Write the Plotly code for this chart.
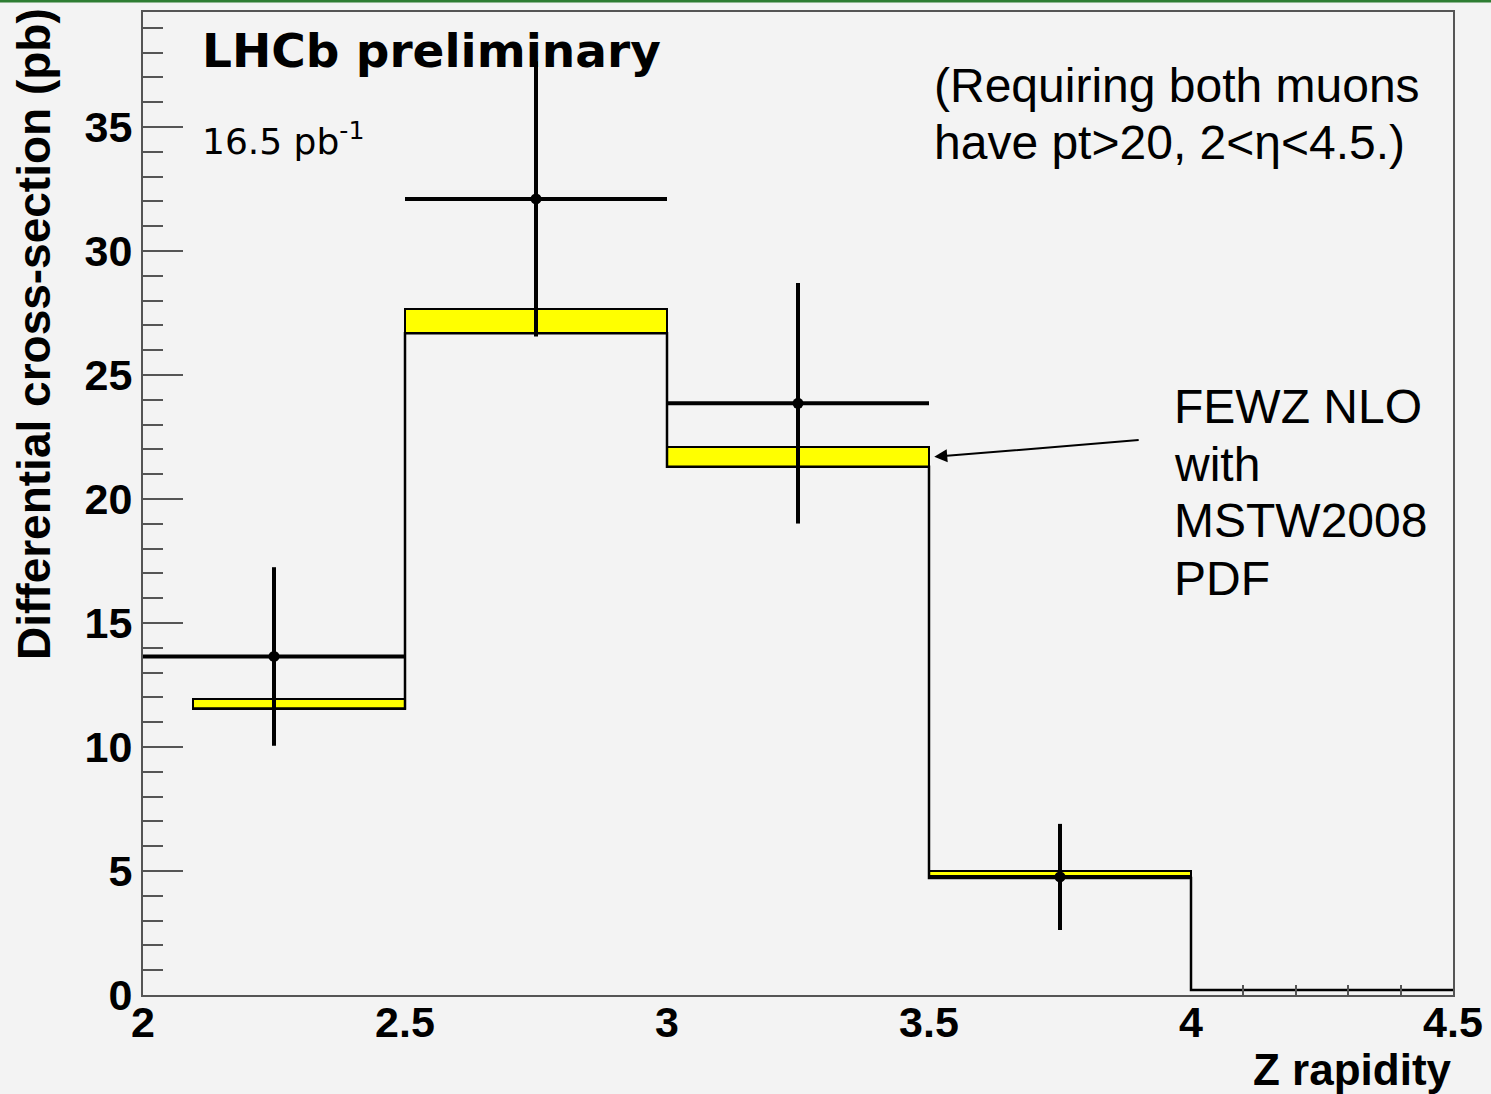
import plotly.graph_objects as go

# ---------------- data ----------------
bin_lo = [2.0, 2.5, 3.0, 3.5]
bin_hi = [2.5, 3.0, 3.5, 4.0]
data_x = [2.25, 2.75, 3.25, 3.75]
data_y = [13.65, 32.1, 23.86, 4.76]
data_err = [3.6, 5.55, 4.85, 2.14]
data_xerr = [0.25, 0.25, 0.25, 0.25]

# theory (FEWZ NLO with MSTW2008) band per bin
theory_x_lo = [2.095, 2.5, 3.0, 3.5]
theory_x_hi = [2.5, 3.0, 3.5, 4.0]
theory_lo = [11.55, 26.68, 21.3, 4.72]
theory_hi = [11.95, 27.65, 22.08, 5.0]
theory_last_edge = 4.5
theory_last_val = 0.2

x_ticks = [2, 2.5, 3, 3.5, 4, 4.5]
x_ticklabels = ["2", "2.5", "3", "3.5", "4", "4.5"]
y_ticks = [0, 5, 10, 15, 20, 25, 30, 35]

# ---------------- layout geometry ----------------
W, H = 1491, 1094
L, R, T, B = 143, 1453, 12, 995
YMAX = (B - T) / 24.8

def px(xp):
    return (xp - L) / (R - L)

def py(yp):
    return (B - yp) / (B - T)

BG = "#f3f3f3"
FRAME = "#555555"

fig = go.Figure()

# theory yellow band boxes
fig.add_trace(go.Bar(
    x=[(a + b) / 2 for a, b in zip(theory_x_lo, theory_x_hi)],
    width=[b - a for a, b in zip(theory_x_lo, theory_x_hi)],
    base=theory_lo,
    y=[h - l for h, l in zip(theory_hi, theory_lo)],
    marker=dict(color="#ffff00", line=dict(color="black", width=2)),
    showlegend=False, hoverinfo="skip",
))

# theory step outline
fig.add_trace(go.Scatter(
    x=theory_x_lo + [theory_x_hi[-1], theory_last_edge],
    y=theory_lo + [theory_last_val, theory_last_val],
    mode="lines", line=dict(color="black", width=2.5, shape="hv"),
    showlegend=False, hoverinfo="skip",
))

# data points
fig.add_trace(go.Scatter(
    x=data_x, y=data_y, mode="markers",
    marker=dict(color="black", size=11),
    error_y=dict(type="data", array=data_err, color="black", thickness=4, width=0),
    error_x=dict(type="data", array=data_xerr, color="black", thickness=4, width=0),
    showlegend=False,
))

ann = []
# titles / labels
ann.append(dict(text="LHCb preliminary", xref="paper", yref="paper",
                x=px(200), y=py(51), xanchor="left", yanchor="middle", showarrow=False,
                font=dict(family="DejaVu Sans", size=47, color="black", weight="bold")))
ann.append(dict(text="16.5 pb<sup>-1</sup>", xref="paper", yref="paper",
                x=px(200), y=py(139), xanchor="left", yanchor="middle", showarrow=False,
                font=dict(family="DejaVu Sans", size=36, color="black")))
for txt, yc in [("(Requiring both muons", 86), ("have pt>20, 2<η<4.5.)", 143)]:
    ann.append(dict(text=txt, xref="paper", yref="paper", x=px(932), y=py(yc),
                    xanchor="left", yanchor="middle", showarrow=False,
                    font=dict(family="Liberation Sans", size=48, color="black")))
for txt, yc in [("FEWZ NLO", 406), ("with", 464), ("MSTW2008", 520), ("PDF", 578)]:
    ann.append(dict(text=txt, xref="paper", yref="paper", x=px(1172), y=py(yc),
                    xanchor="left", yanchor="middle", showarrow=False,
                    font=dict(family="Liberation Sans", size=48, color="black")))
# arrow
ann.append(dict(text="", x=3.51, y=21.7, xref="x", yref="y",
                ax=3.903, ay=22.38, axref="x", ayref="y",
                showarrow=True, arrowhead=2, arrowsize=1.3, arrowwidth=2, arrowcolor="black"))
# axis titles
ann.append(dict(text="Differential cross-section (pb)", xref="paper", yref="paper",
                x=px(34), y=py(6), xanchor="center", yanchor="top", textangle=-90,
                showarrow=False,
                font=dict(family="Liberation Sans", size=46, color="black", weight="bold")))
ann.append(dict(text="Z rapidity", xref="paper", yref="paper",
                x=px(1454), y=py(1069), xanchor="right", yanchor="middle", showarrow=False,
                font=dict(family="Liberation Sans", size=44, color="black", weight="bold")))

tickfont = dict(family="Liberation Sans", size=43, color="black", weight="bold")

fig.update_layout(
    width=W, height=H, autosize=False,
    margin=dict(l=L, r=W - R, t=T, b=H - B, autoexpand=False),
    paper_bgcolor=BG, plot_bgcolor=BG,
    bargap=0,
    annotations=ann,
    xaxis=dict(range=[2, 4.5], tickvals=x_ticks, ticktext=x_ticklabels, ticks="",
               showline=True, linecolor=FRAME, linewidth=2, mirror=True,
               showgrid=False, zeroline=False, tickfont=tickfont,
               ticklabelstandoff=-12,
               minor=dict(tickmode="array", tickvals=[4.1, 4.2, 4.3, 4.4], ticks="inside",
                          ticklen=10, tickwidth=2, tickcolor=FRAME, showgrid=False)),
    yaxis=dict(range=[0, YMAX], tickvals=y_ticks, ticks="inside", ticklen=40, tickwidth=2,
               tickcolor=FRAME, showline=True, linecolor=FRAME, linewidth=2, mirror=True,
               showgrid=False, zeroline=False, tickfont=tickfont,
               minor=dict(dtick=1, ticks="inside", ticklen=20, tickwidth=2,
                          tickcolor=FRAME, showgrid=False)),
    shapes=[dict(type="line", xref="paper", yref="paper", x0=px(0), x1=px(W),
                 y0=py(1), y1=py(1), line=dict(color="#2e7d32", width=3))],
)

fig.write_html("out.html", config={"displayModeBar": False, "responsive": False},
               post_script="document.body.style.margin='0px';document.body.style.overflow='hidden';document.body.style.background='%s';" % BG)
